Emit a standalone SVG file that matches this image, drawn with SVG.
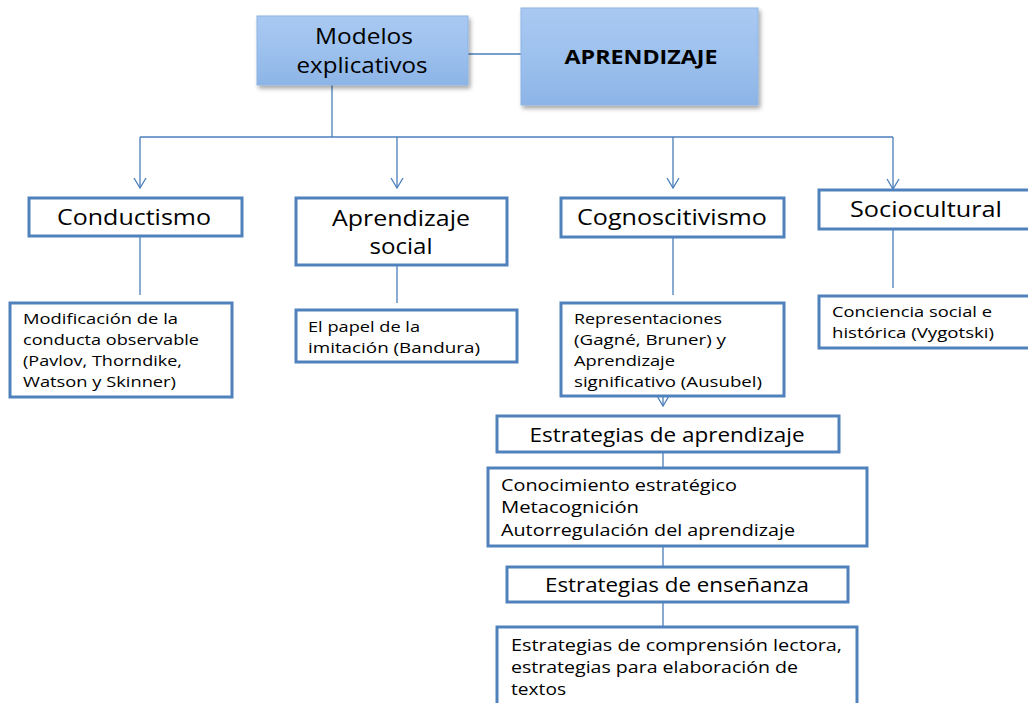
<svg xmlns="http://www.w3.org/2000/svg" width="1028" height="703" viewBox="0 0 1028 703">
<style>
.box{fill:#fff;stroke:#4f81bd;stroke-width:3}
.top{fill:url(#g);stroke:#8eb4e3;stroke-width:1}
.c{fill:none;stroke:#4a7ebb;stroke-width:1.3}
text{font-family:"Open Sans","Liberation Sans",sans-serif;fill:#000}
.h{font-size:22px;text-anchor:middle}
.m{font-size:16px}
.s{font-size:15px}
</style>
<defs>
<linearGradient id="g" x1="0" y1="0" x2="0" y2="1">
<stop offset="0" stop-color="#a9c9f1"/>
<stop offset="0.5" stop-color="#9dc1ee"/>
<stop offset="1" stop-color="#8cb4e6"/>
</linearGradient>
<filter id="sh" x="-10%" y="-10%" width="125%" height="130%">
<feDropShadow dx="2" dy="3" stdDeviation="2" flood-color="#000" flood-opacity="0.35"/>
</filter>
<marker id="a" markerWidth="12" markerHeight="14" refX="11" refY="7" orient="auto" markerUnits="userSpaceOnUse" viewBox="0 0 12 14">
<path d="M1,1 L11,7 L1,13" fill="none" stroke="#4a7ebb" stroke-width="1.3"/>
</marker>
</defs>
<g id="connectors">
<path class="c" d="M468,54 H521"/>
<path class="c" d="M332,85 V137"/>
<path class="c" d="M140,137 H893"/>
<path class="c" d="M140,137 V188" marker-end="url(#a)"/>
<path class="c" d="M397,137 V188" marker-end="url(#a)"/>
<path class="c" d="M673,137 V188" marker-end="url(#a)"/>
<path class="c" d="M893,137 V189" marker-end="url(#a)"/>
<path class="c" d="M140,236 V295"/>
<path class="c" d="M397,265 V303"/>
<path class="c" d="M673,237 V295"/>
<path class="c" d="M893,229 V288"/>
<path class="c" d="M663,372 V406" marker-end="url(#a)"/>
<path class="c" d="M663,447 V468"/>
<path class="c" d="M663,546 V567"/>
<path class="c" d="M663,602 V627"/>
</g>
<g id="modelos">
<rect class="top" x="257" y="16" width="211" height="69" filter="url(#sh)"/>
<text class="h" x="364" y="44" textLength="98" lengthAdjust="spacingAndGlyphs">Modelos</text>
<text class="h" x="362" y="73" textLength="131" lengthAdjust="spacingAndGlyphs">explicativos</text>
</g>
<g id="aprendizaje">
<rect class="top" x="521" y="8" width="237" height="97" filter="url(#sh)"/>
<text x="641" y="64" style="font-size:19px;font-weight:bold;text-anchor:middle" textLength="153" lengthAdjust="spacingAndGlyphs">APRENDIZAJE</text>
</g>
<g id="conductismo">
<rect class="box" x="29" y="198" width="213" height="38"/>
<text class="h" x="134" y="225" textLength="154" lengthAdjust="spacingAndGlyphs">Conductismo</text>
</g>
<g id="aprendizaje-social">
<rect class="box" x="296" y="198" width="211" height="67"/>
<text class="h" x="401" y="226" textLength="138" lengthAdjust="spacingAndGlyphs">Aprendizaje</text>
<text class="h" x="401" y="254" textLength="63" lengthAdjust="spacingAndGlyphs">social</text>
</g>
<g id="cognoscitivismo">
<rect class="box" x="561" y="198" width="223" height="39"/>
<text class="h" x="672" y="225" textLength="190" lengthAdjust="spacingAndGlyphs">Cognoscitivismo</text>
</g>
<g id="sociocultural">
<rect class="box" x="819" y="190" width="215" height="39"/>
<text class="h" x="926" y="217" textLength="152" lengthAdjust="spacingAndGlyphs">Sociocultural</text>
</g>
<g id="modificacion">
<rect class="box" x="10" y="303" width="222" height="94"/>
<text class="s" x="23" y="324" textLength="155" lengthAdjust="spacingAndGlyphs">Modificación  de la</text>
<text class="s" x="23" y="345" textLength="176" lengthAdjust="spacingAndGlyphs">conducta observable</text>
<text class="s" x="23" y="366" textLength="159" lengthAdjust="spacingAndGlyphs">(Pavlov, Thorndike,</text>
<text class="s" x="23" y="387" textLength="153" lengthAdjust="spacingAndGlyphs">Watson y Skinner)</text>
</g>
<g id="papel">
<rect class="box" x="296" y="310" width="221" height="52"/>
<text class="s" x="308" y="332" textLength="112" lengthAdjust="spacingAndGlyphs">El papel de la</text>
<text class="s" x="308" y="353" textLength="172" lengthAdjust="spacingAndGlyphs">imitación   (Bandura)</text>
</g>
<g id="representaciones">
<rect class="box" x="561" y="303" width="223" height="93"/>
<text class="s" x="574" y="324" textLength="148" lengthAdjust="spacingAndGlyphs">Representaciones</text>
<text class="s" x="574" y="345" textLength="152" lengthAdjust="spacingAndGlyphs">(Gagné, Bruner) y</text>
<text class="s" x="574" y="366" textLength="101" lengthAdjust="spacingAndGlyphs">Aprendizaje</text>
<text class="s" x="574" y="387" textLength="188" lengthAdjust="spacingAndGlyphs">significativo (Ausubel)</text>
</g>
<g id="conciencia">
<rect class="box" x="819" y="296" width="215" height="52"/>
<text class="s" x="832" y="317" textLength="160" lengthAdjust="spacingAndGlyphs">Conciencia  social e</text>
<text class="s" x="832" y="338" textLength="162" lengthAdjust="spacingAndGlyphs">histórica (Vygotski)</text>
</g>
<g id="estrategias-aprendizaje">
<rect class="box" x="497" y="416" width="342" height="36"/>
<text x="667" y="442" style="font-size:20px;text-anchor:middle" textLength="275" lengthAdjust="spacingAndGlyphs">Estrategias de aprendizaje</text>
</g>
<g id="conocimiento">
<rect class="box" x="488" y="468" width="379" height="78"/>
<text class="m" x="501" y="491" textLength="236" lengthAdjust="spacingAndGlyphs">Conocimiento estratégico</text>
<text class="m" x="501" y="513" textLength="138" lengthAdjust="spacingAndGlyphs">Metacognición</text>
<text class="m" x="501" y="536" textLength="294" lengthAdjust="spacingAndGlyphs">Autorregulación del aprendizaje</text>
</g>
<g id="estrategias-ensenanza">
<rect class="box" x="507" y="567" width="341" height="35"/>
<text x="677" y="592" style="font-size:20px;text-anchor:middle" textLength="264" lengthAdjust="spacingAndGlyphs">Estrategias de enseñanza</text>
</g>
<g id="comprension">
<rect class="box" x="497" y="627" width="360" height="90"/>
<text class="m" x="511" y="651" textLength="331" lengthAdjust="spacingAndGlyphs">Estrategias de comprensión lectora,</text>
<text class="m" x="511" y="673" textLength="287" lengthAdjust="spacingAndGlyphs">estrategias para elaboración de</text>
<text class="m" x="511" y="695" textLength="55" lengthAdjust="spacingAndGlyphs">textos</text>
</g>
</svg>
